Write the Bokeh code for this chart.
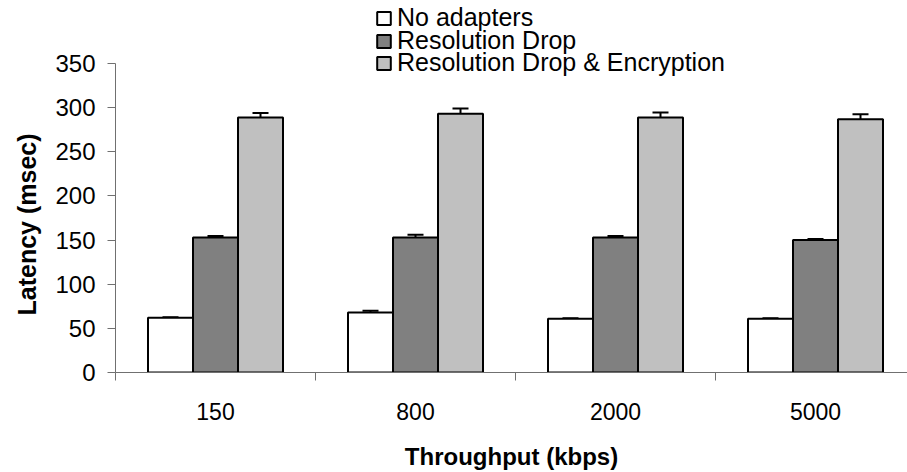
from bokeh.plotting import figure
from bokeh.models import (ColumnDataSource, Range1d, FixedTicker, Whisker, TeeHead,
                          Legend, LegendItem, Title)
from bokeh.embed import file_html
from bokeh.resources import INLINE

# Latency per throughput setting, three adapter configurations
throughputs = ["150", "800", "2000", "5000"]
no_adapters = [62, 68, 61, 61]
no_adapters_err = [0.5, 2, 0.5, 0.5]
res_drop = [153, 153, 153, 150]
res_drop_err = [1.5, 3, 1.5, 1.2]
res_drop_enc = [289, 293, 289, 287]
res_drop_enc_err = [5, 6, 5.5, 5.5]

series_names = ["No adapters", "Resolution Drop", "Resolution Drop & Encryption"]
series_vals = [no_adapters, res_drop, res_drop_enc]
series_errs = [no_adapters_err, res_drop_err, res_drop_enc_err]
series_fill = ["#FFFFFF", "#808080", "#C0C0C0"]

BAR_W = 0.225
offsets = [-BAR_W, 0.0, BAR_W]
centers = [i + 0.5 for i in range(len(throughputs))]

FONT = "Liberation Sans"

# The y range runs above 350 so the legend has room inside the frame;
# the y axis itself is bounded to 0..350.
p = figure(width=907, height=472, output_backend="svg", toolbar_location=None,
           x_range=Range1d(0, 3.96), y_range=Range1d(0, 421.4),
           min_border_left=115, min_border_right=0, min_border_top=0,
           min_border_bottom=100)
p.outline_line_color = None
p.xgrid.grid_line_color = None
p.ygrid.grid_line_color = None
p.background_fill_color = "white"
p.border_fill_color = "white"

renderers = []
for name, vals, errs, fill, off in zip(series_names, series_vals, series_errs,
                                       series_fill, offsets):
    xs = [c + off for c in centers]
    src = ColumnDataSource(dict(
        x=xs, top=vals,
        upper=[v + e for v, e in zip(vals, errs)],
        lower=[v - e for v, e in zip(vals, errs)],
    ))
    r = p.vbar(x="x", top="top", width=BAR_W, bottom=0, source=src,
               fill_color=fill, line_color="black", line_width=2)
    renderers.append((name, r))
    w = Whisker(source=src, base="x", upper="upper", lower="lower",
                dimension="height", line_color="black", line_width=2,
                upper_head=TeeHead(size=16, line_width=2, line_color="black"),
                lower_head=TeeHead(size=16, line_width=2, line_color="black"))
    p.add_layout(w)

# X axis: labels at group centres, tick marks at group boundaries
xa = p.xaxis[0]
xa.ticker = FixedTicker(ticks=centers, minor_ticks=[0, 1, 2, 3, 4])
xa.major_label_overrides = {c: t for c, t in zip(centers, throughputs)}
xa.major_tick_line_color = None
xa.major_tick_out = 0
xa.major_tick_in = 0
xa.minor_tick_out = 8
xa.minor_tick_in = 0
xa.minor_tick_line_color = "#707070"
xa.axis_line_color = "#707070"
xa.major_label_text_font = FONT
xa.major_label_text_font_size = "23px"
xa.major_label_text_color = "black"
xa.major_label_standoff = 22
xa.axis_label = "Throughput (kbps)"
xa.axis_label_text_font = FONT
xa.axis_label_text_font_size = "24px"
xa.axis_label_text_font_style = "bold"
xa.axis_label_text_color = "black"
xa.axis_label_standoff = 20

ya = p.yaxis[0]
ya.ticker = FixedTicker(ticks=[0, 50, 100, 150, 200, 250, 300, 350])
ya.bounds = (0, 350)
ya.minor_tick_line_color = None
ya.major_tick_out = 8
ya.major_tick_in = 0
ya.major_tick_line_color = "#707070"
ya.axis_line_color = "#707070"
ya.major_label_text_font = FONT
ya.major_label_text_font_size = "24px"
ya.major_label_text_color = "black"
ya.major_label_standoff = 12

# Y axis title, centred on the bounded 0..350 span rather than the whole frame
p.add_layout(Title(text="Latency (msec)", align="left", offset=57,
                   vertical_align="top", standoff=20, text_font=FONT,
                   text_font_size="25px", text_font_style="bold",
                   text_color="black"), "left")

# Legend stacked tightly above the bars, one entry per row
row_locations = [(260, 340), (260, 317), (260, 295)]
for (name, r), loc in zip(renderers, row_locations):
    legend = Legend(items=[LegendItem(label=name, renderers=[r])],
                    location=loc, orientation="vertical",
                    label_text_font=FONT, label_text_font_size="25px",
                    label_text_color="black", glyph_width=17, glyph_height=16,
                    label_standoff=5, label_height=22, spacing=0, padding=0,
                    margin=0, border_line_color=None, background_fill_alpha=0)
    p.add_layout(legend, "center")

open("out.html", "w").write(file_html(p, INLINE))
